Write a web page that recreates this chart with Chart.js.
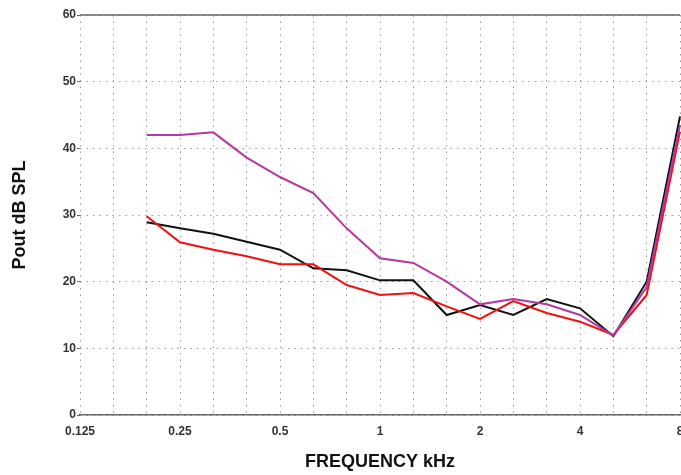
<!DOCTYPE html>
<html lang="en">

<head>
  <meta charset="UTF-8" />
  <title>Pout dB SPL vs frequency</title>
  <script src="https://cdn.jsdelivr.net/npm/chart.js"></script>
  <style>
    html, body {
      margin: 0;
      padding: 0;
      background: #fff;
      overflow: hidden;
    }
    .chart-box {
      position: relative;
      width: 700px;
      height: 475px;
    }
  </style>
</head>

<body>
  <div class="chart-box">
    <canvas id="chartPout"></canvas>
  </div>

  <script>
    // 1/3 octave bands, kHz
    const bandas = ['0.125', '0.16', '0.2', '0.25', '0.315', '0.4', '0.5', '0.63', '0.8', '1',
      '1.25', '1.6', '2', '2.5', '3.15', '4', '5', '6.3', '8'];
    const rotulosOitava = ['0.125', '0.25', '0.5', '1', '2', '4', '8'];
    const ticksY = [0, 10, 20, 30, 40, 50, 60];

    const curvaMagenta = [null, null, 42, 42, 42.4, 38.6, 35.7, 33.3, 28, 23.5,
      22.8, 20, 16.6, 17.4, 16.6, 15, 11.9, 19.2, 43.5];
    const curvaPreta = [null, null, 28.9, 28, 27.2, 26, 24.8, 22, 21.7, 20.2,
      20.2, 15, 16.5, 15, 17.4, 16, 11.8, 20, 44.8];
    const curvaVermelha = [null, null, 29.8, 25.9, 24.8, 23.8, 22.6, 22.6, 19.5, 18,
      18.3, 16.3, 14.4, 17.1, 15.3, 14, 12, 18, 42.5];

    // solid frame line on top of the plot
    const linhaTopo = {
      id: 'linhaTopo',
      afterDraw(chart) {
        const { ctx, chartArea } = chart;
        ctx.save();
        ctx.strokeStyle = '#666';
        ctx.lineWidth = 1.5;
        ctx.beginPath();
        ctx.moveTo(chartArea.left, chartArea.top);
        ctx.lineTo(chartArea.right, chartArea.top);
        ctx.stroke();
        ctx.restore();
      }
    };

    const fonteTick = { family: 'Liberation Sans', size: 12, weight: 'bold' };
    const fonteTitulo = { family: 'Liberation Sans', size: 18, weight: 'bold' };

    const ctx = document.getElementById('chartPout').getContext('2d');
    new Chart(ctx, {
      type: 'line',
      data: {
        labels: bandas,
        datasets: [
          { data: curvaMagenta, borderColor: '#b4389f', borderWidth: 2, pointRadius: 0, tension: 0 },
          { data: curvaVermelha, borderColor: '#f01010', borderWidth: 2, pointRadius: 0, tension: 0 },
          { data: curvaPreta, borderColor: '#111', borderWidth: 2, pointRadius: 0, tension: 0 }
        ]
      },
      options: {
        responsive: true,
        maintainAspectRatio: false,
        animation: false,
        layout: { padding: { top: 15, right: 20, left: 0, bottom: 0 } },
        plugins: {
          legend: { display: false },
          tooltip: { enabled: false }
        },
        scales: {
          x: {
            type: 'category',
            offset: false,
            grid: {
              color: '#9a9a9a',
              lineWidth: 1,
              drawTicks: false
            },
            border: { display: true, color: '#666', width: 1.5, dash: [1.5, 5] },
            ticks: {
              autoSkip: false,
              maxRotation: 0,
              padding: 9,
              color: '#333',
              font: fonteTick,
              callback: function (v) {
                const l = this.getLabelForValue(v);
                return rotulosOitava.includes(l) ? l : '';
              }
            },
            title: {
              display: true,
              text: 'FREQUENCY kHz',
              color: '#111',
              font: fonteTitulo,
              padding: { top: 4, bottom: 2 }
            },
            afterFit(scale) { scale.height = 60; }
          },
          y: {
            min: 0,
            max: 60,
            afterBuildTicks(scale) { scale.ticks = ticksY.map(v => ({ value: v })); },
            grid: {
              color: '#9a9a9a',
              lineWidth: 1,
              tickLength: 3,
              tickColor: '#666'
            },
            border: { display: false, dash: [1.5, 5] },
            ticks: {
              padding: 1,
              color: '#333',
              font: fonteTick
            },
            title: {
              display: true,
              text: 'Pout dB SPL',
              color: '#111',
              font: fonteTitulo,
              padding: { top: 9, bottom: 10 }
            },
            afterFit(scale) { scale.width = 80; }
          }
        }
      },
      plugins: [linhaTopo]
    });
  </script>
</body>

</html>
